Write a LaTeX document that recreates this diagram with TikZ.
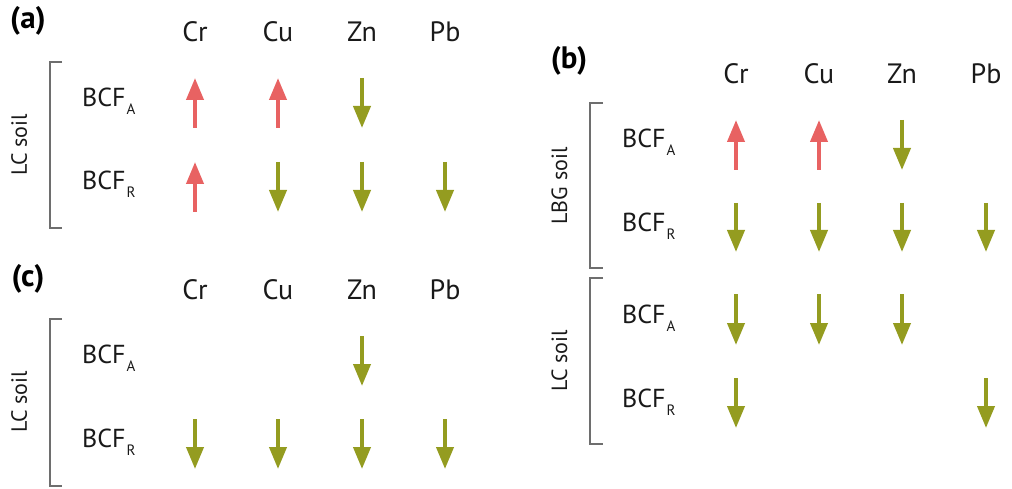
\documentclass[tikz,border=0pt]{standalone}
\usepackage{fontspec}
\setmainfont{PT Sans}
\usetikzlibrary{arrows.meta}
\definecolor{upred}{RGB}{232,98,98}
\definecolor{downgreen}{RGB}{148,156,32}
\definecolor{brgray}{RGB}{110,110,110}
\tikzset{
  hdr/.style={anchor=base, font=\fontsize{28}{32}\selectfont, text=black!90, inner sep=0pt},
  bcf/.style={anchor=base west, font=\fontsize{26}{30}\selectfont, text=black!90, inner sep=0pt},
  soil/.style={anchor=base, rotate=90, font=\fontsize{22}{26}\selectfont, text=black!90, inner sep=0pt},
  plabel/.style={anchor=center, font=\bfseries\fontsize{31}{34}\selectfont, inner sep=0pt},
  bracket/.style={draw=brgray, line width=1.3pt},
  uparr/.style={draw=upred, line width=4pt, -{Triangle[width=17pt,length=22pt]}},
  dnarr/.style={draw=downgreen, line width=4pt, -{Triangle[width=17pt,length=22pt]}},
}
\newcommand{\BCF}[1]{BCF\kern1pt\raisebox{-8pt}{\fontsize{15}{17}\selectfont #1}}
\newcommand{\UpA}[3]{\draw[uparr] (#1,#3) -- (#1,#2);}
\newcommand{\DnA}[3]{\draw[dnarr] (#1,#2) -- (#1,#3);}
\begin{document}
\begin{tikzpicture}[x=1pt,y=-1pt]
\useasboundingbox (0,0) rectangle (1012,489);
% ---------- panel (a)
\node[plabel] (la) at (28,21) {(a)};
\node[hdr] (a1) at (195,42) {Cr};
\node[hdr] (a2) at (278,42) {Cu};
\node[hdr] (a3) at (362,42) {Zn};
\node[hdr] (a4) at (445,42) {Pb};
\draw[bracket] (62,62) -- (50,62) -- (50,228) -- (62,228);
\node[soil] (sa) at (27,145) {LC soil};
\node[bcf] (ba1) at (82,107) {\BCF{A}};
\node[bcf] (ba2) at (82,190) {\BCF{R}};
\UpA{195}{78}{128}
\UpA{278}{78}{128}
\DnA{362}{78}{128}
\UpA{195}{162}{212}
\DnA{278}{162}{212}
\DnA{362}{162}{212}
\DnA{445}{162}{212}
% ---------- panel (b)
\node[plabel] (lb) at (569,61) {(b)};
\node[hdr] (b1) at (736,84) {Cr};
\node[hdr] (b2) at (819,84) {Cu};
\node[hdr] (b3) at (902,84) {Zn};
\node[hdr] (b4) at (986,84) {Pb};
\draw[bracket] (603,103) -- (590,103) -- (590,268) -- (603,268);
\draw[bracket] (603,278) -- (590,278) -- (590,444) -- (603,444);
\node[soil] (sb1) at (567,186) {LBG soil};
\node[soil] (sb2) at (567,361) {LC soil};
\node[bcf] (bb1) at (622,148) {\BCF{A}};
\node[bcf] (bb2) at (622,232) {\BCF{R}};
\node[bcf] (bb3) at (622,323) {\BCF{A}};
\node[bcf] (bb4) at (622,407) {\BCF{R}};
\UpA{736}{120}{170}
\UpA{819}{120}{170}
\DnA{902}{120}{170}
\DnA{736}{203}{252}
\DnA{819}{203}{252}
\DnA{902}{203}{252}
\DnA{986}{203}{252}
\DnA{736}{294}{345}
\DnA{819}{294}{345}
\DnA{902}{294}{345}
\DnA{736}{378}{428}
\DnA{986}{378}{428}
% ---------- panel (c)
\node[plabel] (lc) at (28,279) {(c)};
\node[hdr] (c1) at (195,299) {Cr};
\node[hdr] (c2) at (278,299) {Cu};
\node[hdr] (c3) at (362,299) {Zn};
\node[hdr] (c4) at (445,299) {Pb};
\draw[bracket] (62,319) -- (50,319) -- (50,486) -- (62,486);
\node[soil] (sc) at (27,402) {LC soil};
\node[bcf] (bc1) at (82,363) {\BCF{A}};
\node[bcf] (bc2) at (82,447) {\BCF{R}};
\DnA{362}{336}{386}
\DnA{195}{419}{469}
\DnA{278}{419}{469}
\DnA{362}{419}{469}
\DnA{445}{419}{469}
\end{tikzpicture}
\end{document}
